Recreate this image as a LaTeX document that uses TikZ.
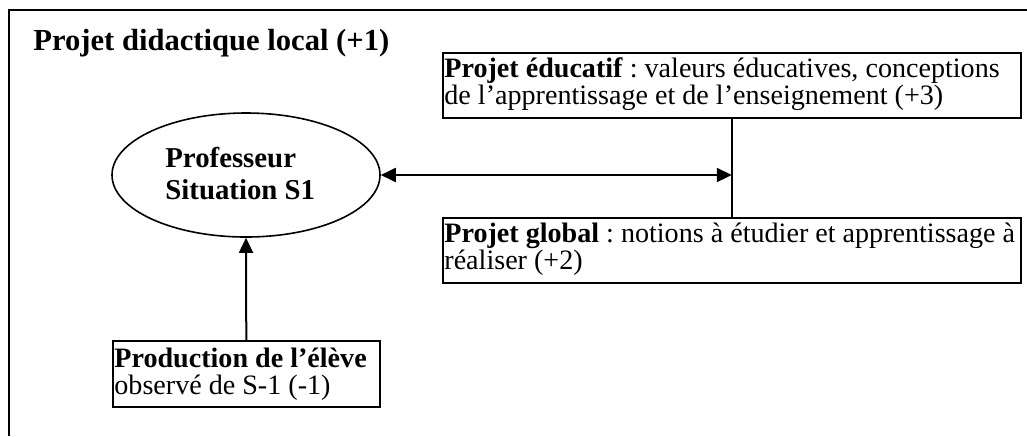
\documentclass[tikz,border=0pt]{standalone}
\usepackage{fontspec}
\setmainfont{Liberation Serif}
\usetikzlibrary{arrows.meta,shapes.geometric}
\frenchspacing
\begin{document}
\begin{tikzpicture}[x=0.5pt,y=-0.5pt,
  frameline/.style={line width=1pt},
  boxnode/.style={draw,line width=0.8pt,inner sep=0pt,anchor=north west},
  txt/.style={anchor=north west,inner sep=0pt,align=left,font=\fontsize{14.05}{13.7}\selectfont},
  conn/.style={line width=1pt},
  tipend/.style={-{Triangle[length=7.5pt,width=7pt]}},
  tipboth/.style={{Triangle[length=7.5pt,width=7pt]}-{Triangle[length=7.5pt,width=7pt]}}
]
\useasboundingbox (0,0) rectangle (1027,436);
\draw[frameline] (1027,10) -- (9,10) -- (9,436);

\node[anchor=base west,inner sep=0pt,font=\fontsize{15.3}{18}\selectfont\bfseries] (title) at (33,50) {Projet didactique local (+1)};

% boxes
\node[boxnode,minimum width=289pt,minimum height=32.5pt] (edu) at (442,52) {};
\node[txt] (edutxt) at ([xshift=1pt]edu.north west) {\rule{0pt}{12.3pt}\textbf{Projet éducatif} : valeurs éducatives, conceptions\\de l’apprentissage et de l’enseignement (+3)};

\node[boxnode,minimum width=289pt,minimum height=32.5pt] (glob) at (442,217) {};
\node[txt] (globtxt) at ([xshift=1pt]glob.north west) {\rule{0pt}{12.3pt}\textbf{Projet global} : notions à étudier et apprentissage à\\réaliser (+2)};

\node[boxnode,minimum width=133.5pt,minimum height=33pt] (prod) at (112,340) {};
\node[txt] (prodtxt) at ([xshift=1pt]prod.north west) {\rule{0pt}{13.5pt}\textbf{Production de l’élève}\\observé de S-1 (-1)};

% ellipse
\node[draw,ellipse,line width=0.8pt,minimum width=134pt,minimum height=62pt,inner sep=0pt] (prof) at (246,175) {};
\node[anchor=north west,inner sep=0pt,align=left,font=\fontsize{14.4}{16}\selectfont\bfseries] (proftxt) at (165,136) {\rule{0pt}{15.5pt}Professeur\\Situation S1};

% connectors
\coordinate (junc) at (edu.south |- prof.east);
\draw[conn,tipboth] (prof.east) -- (junc);
\draw[conn] (edu.south) -- (glob.north);
\draw[conn,tipend] (prod.north) -- (prof.south);
\end{tikzpicture}
\end{document}
